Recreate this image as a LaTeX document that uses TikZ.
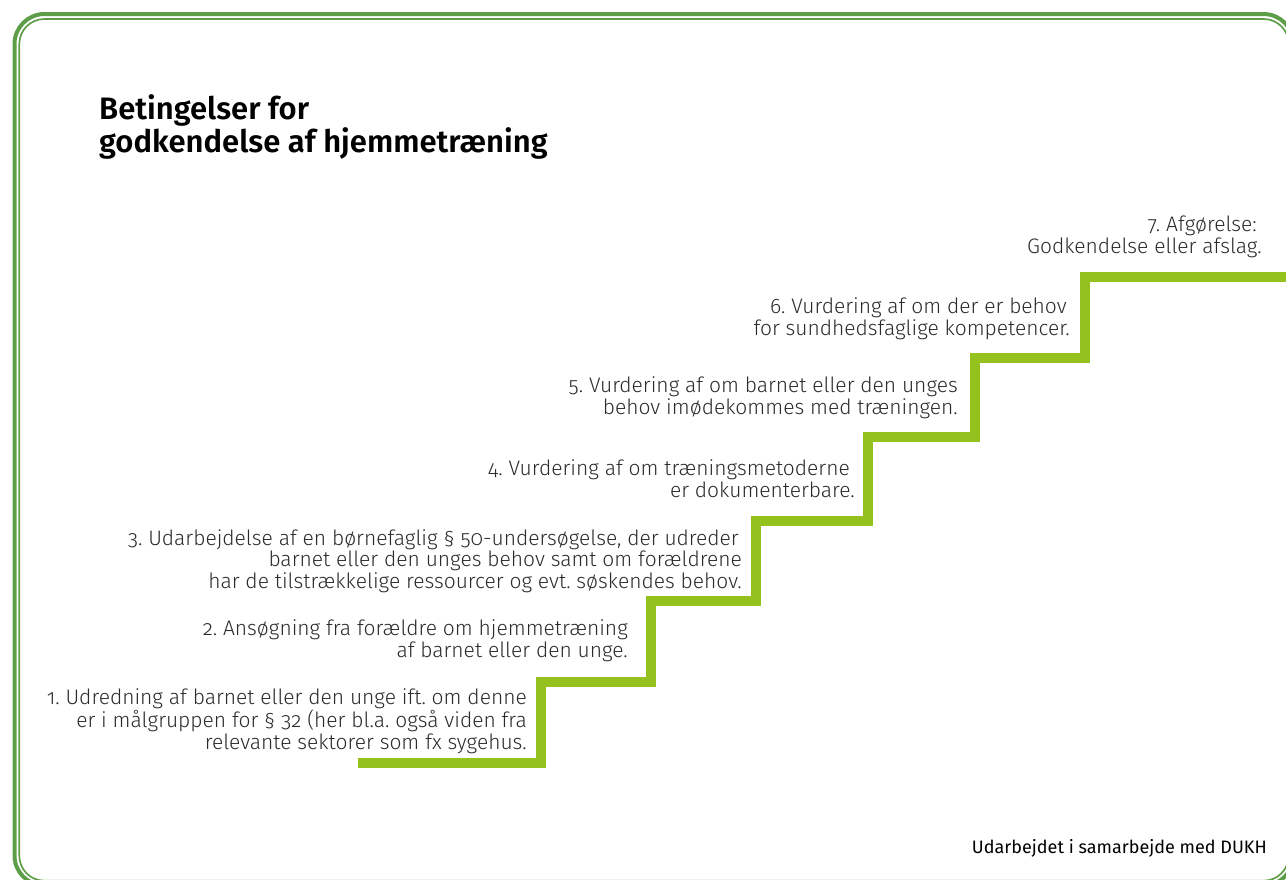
\documentclass[tikz,border=0pt]{standalone}
\usepackage{fontspec}
\setmainfont{Fira Sans}
\newfontfamily\bodyfont{Fira Sans Light}[Numbers=OldStyle]
\newfontfamily\titlefont{Fira Sans SemiBold}
\definecolor{framegreen}{HTML}{5E9E48}
\definecolor{stairgreen}{HTML}{95C11F}
\definecolor{bodytext}{HTML}{2B2B2B}
\tikzset{
  frameouter/.style={draw=framegreen, line width=4pt, rounded corners=30pt},
  frameinner/.style={draw=framegreen, line width=1.7pt, rounded corners=25pt},
  stairline/.style={draw=stairgreen, line width=10.5pt, line cap=butt, line join=miter},
  steptext/.style={anchor=base east, align=right, inner sep=0pt, text=bodytext,
    font=\bodyfont\fontsize{21}{21.5}\selectfont\frenchspacing},
  titletext/.style={anchor=base west, align=left, inner sep=0pt, text=black,
    font=\titlefont\fontsize{31}{33.4}\selectfont},
  foottext/.style={anchor=base east, inner sep=0pt, text=black,
    font=\fontsize{18}{20}\selectfont}
}
\begin{document}
\begin{tikzpicture}[x=1pt, y=-1pt]
\useasboundingbox (0,0) rectangle (1286,879);
% frame
\draw[frameouter] (14.5,14) rectangle (1293.5,885.5);
\draw[frameinner] (19.3,19) rectangle (1288.7,880.7);
% title
\node[titletext] (title) at (99,152.7) {Betingelser for\\godkendelse af hjemmetræning};
% staircase corners
\coordinate (s0) at (358,763);
\coordinate (s1) at (541,763);
\coordinate (s2) at (541,682);
\coordinate (s3) at (651,682);
\coordinate (s4) at (651,601);
\coordinate (s5) at (756,601);
\coordinate (s6) at (756,521);
\coordinate (s7) at (868,521);
\coordinate (s8) at (868,437);
\coordinate (s9) at (975,437);
\coordinate (s10) at (975,358);
\coordinate (s11) at (1085,358);
\coordinate (s12) at (1085,277);
\coordinate (s13) at (1292,277);
\draw[stairline] (s0) -- (s1) -- (s2) -- (s3) -- (s4) -- (s5) -- (s6) -- (s7)
  -- (s8) -- (s9) -- (s10) -- (s11) -- (s12) -- (s13);
% step texts
\node[steptext] (t1) at (527,749) {1. Udredning af barnet eller den unge ift. om denne\\er i målgruppen for § 32 (her bl.a. også viden fra\\relevante sektorer som fx sygehus.};
\node[steptext] (t2) at (628,657) {2. Ansøgning fra forældre om hjemmetræning\\af barnet eller den unge.};
\node[steptext] (t3) at (742,588) {3. Udarbejdelse af en børnefaglig § 50-undersøgelse, der udreder\hspace*{3pt}\\barnet eller den unges behov samt om forældrene\hspace*{2pt}\\har de tilstrækkelige ressourcer og evt. søskendes behov.};
\node[steptext] (t4) at (855,497) {4. Vurdering af om træningsmetoderne\hspace*{5pt}\\er dokumenterbare.};
\node[steptext] (t5) at (958,414) {5. Vurdering af om barnet eller den unges\\behov imødekommes med træningen.};
\node[steptext] (t6) at (1070,335) {6. Vurdering af om der er behov\hspace*{3pt}\\for sundhedsfaglige kompetencer.};
\node[steptext] (t7) at (1262,253) {7. Afgørelse:\hspace*{5pt}\\Godkendelse eller afslag.};
% footer
\node[foottext] (foot) at (1267,853) {Udarbejdet i samarbejde med DUKH};
\end{tikzpicture}
\end{document}
